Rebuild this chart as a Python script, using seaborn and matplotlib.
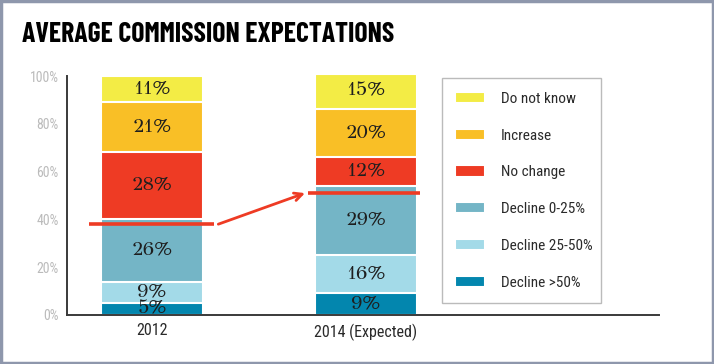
import matplotlib
matplotlib.use("Agg")
import matplotlib.pyplot as plt
import matplotlib.patches as mpatches
from matplotlib import font_manager as fm
import seaborn as sns
import pandas as pd
import numpy as np

# ---- data ----
years = ["2012", "2014 (Expected)"]
categories = ["Decline >50%", "Decline 25-50%", "Decline 0-25%", "No change", "Increase", "Do not know"]
decline_gt50 = [5, 9]
decline_25_50 = [9, 16]
decline_0_25 = [26, 29]
no_change = [28, 12]
increase = [21, 20]
do_not_know = [11, 15]
marker_levels = [38, 51]
yticks = [0, 20, 40, 60, 80, 100]
ytick_labels = ["0%", "20%", "40%", "60%", "80%", "100%"]

series = [decline_gt50, decline_25_50, decline_0_25, no_change, increase, do_not_know]
colors = ["#0386AE", "#A3DAE8", "#74B5C6", "#EE3B24", "#F9BF26", "#F3EC45"]

_avail = set(f.name for f in fm.fontManager.ttflist)
def pick(cands, default="DejaVu Sans"):
    for c in cands:
        if c in _avail:
            return c
    return default

title_font = pick(["Barlow Condensed", "Roboto Condensed", "Oswald", "Archivo Narrow", "Liberation Sans Narrow"])
body_font = pick(["Roboto Condensed", "Archivo Narrow", "PT Sans Narrow", "Liberation Sans Narrow", "Barlow Semi Condensed", "Asap Condensed", "Barlow Condensed"])
serif_font = pick(["GFS Didot", "Liberation Serif"], "DejaVu Serif")

sns.set_theme(style="white")
plt.rcParams["font.family"] = [body_font, "DejaVu Sans"]

fig = plt.figure(figsize=(7.14, 3.64), dpi=100)
ax = fig.add_axes([67/714, 1-315/364, (659-67)/714, (315-76)/364])

cum = np.cumsum(np.array(series), axis=0)
rows = []
for i, cat in enumerate(categories):
    for j, yr in enumerate(years):
        rows.append({"year": yr, "category": cat, "value": series[i][j], "cum": cum[i][j]})
df = pd.DataFrame(rows)

bar_w = 102/214
for i in reversed(range(len(categories))):
    sub = df[df["category"] == categories[i]]
    sns.barplot(data=sub, x="year", y="cum", order=years, color=colors[i],
                width=bar_w, edgecolor="white", linewidth=1.5, saturation=1,
                ax=ax, errorbar=None)
for p in ax.patches:
    p.set_clip_on(False)

for i in range(len(categories)):
    for j in range(len(years)):
        v = series[i][j]
        yc = cum[i][j] - v / 2
        ax.text(j, yc, f"{v}%", ha="center", va="center", fontsize=14.5,
                family=[serif_font, "DejaVu Serif"], color="#1e1e1e")

red = "#EE3B24"
ax.plot([-0.294, 0.29], [marker_levels[0]] * 2, color=red, lw=2.6, solid_capstyle="butt", clip_on=False)
ax.plot([0.729, 1.252], [marker_levels[1]] * 2, color=red, lw=2.6, solid_capstyle="butt", clip_on=False)
ax.annotate("", xy=(0.715, marker_levels[1]), xytext=(0.31, marker_levels[0]),
            arrowprops=dict(arrowstyle="->", color=red, lw=2, mutation_scale=14,
                            shrinkA=0, shrinkB=0))

ax.set_xlim(-0.397, 2.369)
ax.set_ylim(0, 100)
ax.set_yticks(yticks)
ax.set_yticklabels(ytick_labels)
ax.set_xlabel("")
ax.set_ylabel("")
sns.despine(ax=ax, top=True, right=True)
for s in ["left", "bottom"]:
    ax.spines[s].set_color("#3a3a3a")
    ax.spines[s].set_linewidth(1.4)
ax.tick_params(axis="y", length=0, pad=6, labelsize=10, labelcolor="#BBBBBB")
ax.tick_params(axis="x", length=0, pad=6, labelsize=11.5, labelcolor="#2a2a2a")

handles = [mpatches.Patch(facecolor=colors[i], edgecolor="white", linewidth=1.5, label=categories[i])
           for i in reversed(range(len(categories)))]
leg = fig.legend(handles=handles, loc="upper left",
                 bbox_to_anchor=(442/714, 1-82/364, (601-442)/714, 0.01), mode="expand",
                 frameon=True, fancybox=False, borderaxespad=0, fontsize=11,
                 handlelength=1.95, handleheight=0.75, handletextpad=1.0,
                 labelspacing=1.49, borderpad=0.88)
leg.get_frame().set_edgecolor("#AAAAAA")
leg.get_frame().set_linewidth(1.0)
for t in leg.get_texts():
    t.set_color("#2a2a2a")

fig.text(22/714, 1-35/364, "AVERAGE COMMISSION EXPECTATIONS", ha="left", va="center",
         fontsize=20, fontweight="bold", color="black", family=[title_font, "DejaVu Sans"])

fig.patches.append(mpatches.Rectangle((0.0015, 0.003), 0.997, 0.994, transform=fig.transFigure,
                                      fill=False, edgecolor="#8E97AC", linewidth=2.5))

fig.savefig("out.png", dpi=100)
